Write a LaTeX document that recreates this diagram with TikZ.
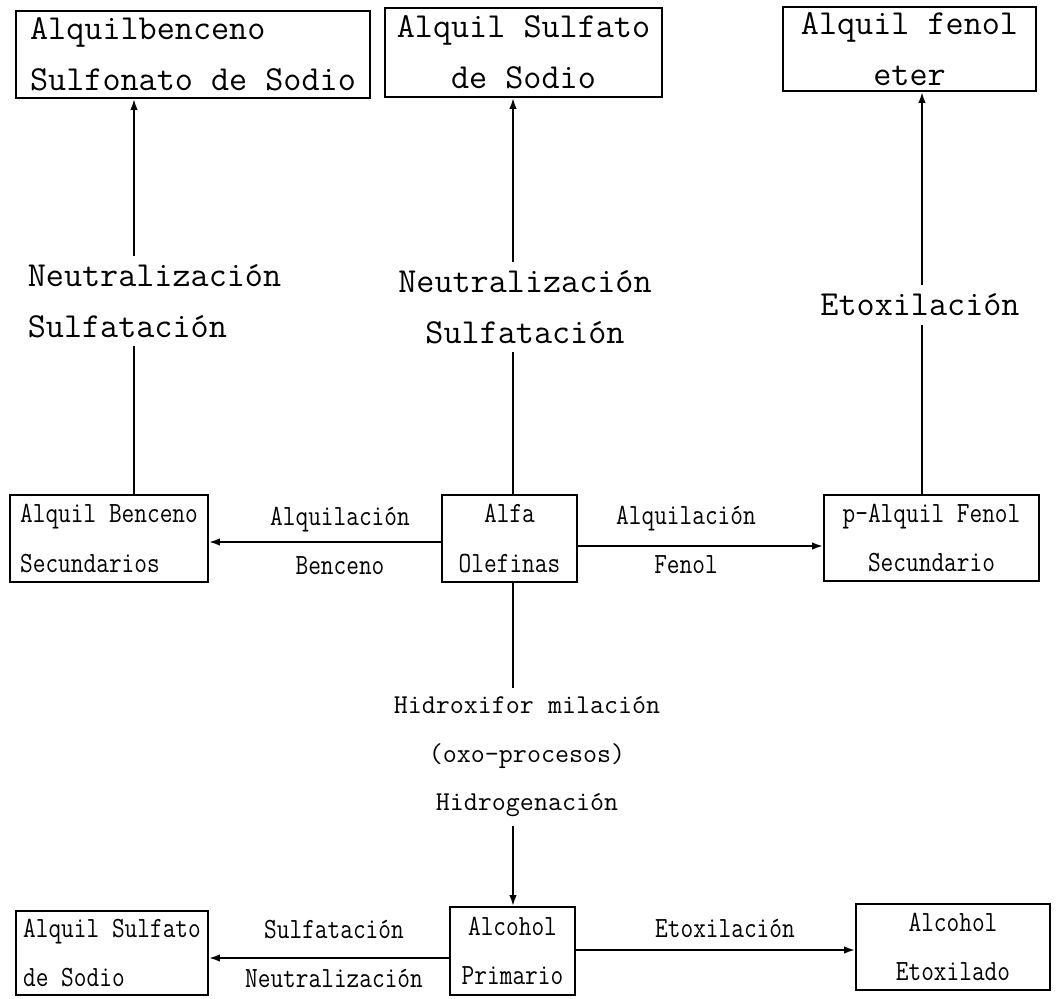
\documentclass[tikz,border=0pt]{standalone}
\usepackage{fontspec}
\usepackage{tikz}
\usetikzlibrary{arrows.meta}
\usetikzlibrary{positioning}

\newcommand{\cnd}[1]{\scalebox{0.84}[1]{#1}}

\begin{document}
\begin{tikzpicture}[x=0.02cm, y=-0.02cm,
    >={Latex[length=2.2mm,width=1.5mm]},
    box/.style={draw, line width=1.1pt, inner sep=0pt, align=center},
    bigtxt/.style={font=\fontsize{20}{29}\selectfont\ttfamily},
    smalltxt/.style={font=\fontsize{16.7}{28}\selectfont\ttfamily},
    midtxt/.style={font=\fontsize{15.5}{27.6}\selectfont\ttfamily},
    lbl/.style={inner sep=0pt, outer sep=5pt, align=center},
    flow/.style={line width=1.1pt}
    ]
    \useasboundingbox (0,0) rectangle (1058,998);
    \coordinate (colA) at (134,0);
    \coordinate (colB) at (513,0);
    \coordinate (colC) at (922,0);
    \coordinate (rowL) at (0,542);
    \coordinate (rowR) at (0,546);
    \coordinate (rowSL) at (0,958);
    \coordinate (rowEt) at (0,950);

    % final products
    \node[box, bigtxt, align=left, minimum width=7.08cm, minimum height=1.74cm] (b1) at (193,54.5) {Alquilbenceno\\Sulfonato de Sodio};
    \node[box, bigtxt, minimum width=5.54cm, minimum height=1.78cm] (b2) at (523.5,52.5) {Alquil Sulfato\\de Sodio};
    \node[box, bigtxt, minimum width=5.06cm, minimum height=1.68cm] (b3) at (909.5,49) {Alquil fenol\\eter};

    \node[lbl, bigtxt, align=left] (lA) at (154.5,301) {Neutralización\\Sulfatación};
    \node[lbl, bigtxt] (lB) at (525,307) {Neutralización\\Sulfatación};
    \node[lbl, bigtxt] (lC) at (920,305) {Etoxilación};

    % intermediates
    \node[box, smalltxt, align=left, minimum width=3.96cm, minimum height=1.74cm] (m1) at (109,538.5) {\cnd{Alquil Benceno}\\\cnd{Secundarios}};
    \node[box, smalltxt, minimum width=2.70cm, minimum height=1.74cm] (m2) at (509.5,538.5) {\cnd{Alfa}\\\cnd{Olefinas}};
    \node[box, smalltxt, minimum width=4.30cm, minimum height=1.72cm] (m3) at (931.5,538) {\cnd{p-Alquil Fenol}\\\cnd{Secundario}};
    \node[lbl, smalltxt] (aL) at (340,541) {\cnd{Alquilación}\\\cnd{Benceno}};
    \node[lbl, smalltxt] (aR) at (686,540) {\cnd{Alquilación}\\\cnd{Fenol}};

    \node[lbl, midtxt] (hx) at (527,757) {Hidroxifor milación\\(oxo-procesos)\\Hidrogenación};

    % alcohol line
    \node[box, smalltxt, align=left, minimum width=3.84cm, minimum height=1.68cm] (d1) at (112,953) {\cnd{Alquil Sulfato}\\\cnd{de Sodio}};
    \node[box, smalltxt, minimum width=2.50cm, minimum height=1.76cm] (d2) at (512.5,951) {\cnd{Alcohol}\\\cnd{Primario}};
    \node[box, smalltxt, minimum width=3.88cm, minimum height=1.72cm] (d3) at (953,947) {\cnd{Alcohol}\\\cnd{Etoxilado}};
    \node[lbl, smalltxt] (sL) at (334,954) {\cnd{Sulfatación}\\\cnd{Neutralización}};
    \node[lbl, smalltxt] (eR) at (725,928) {\cnd{Etoxilación}};

    % upward lines through the labels
    \foreach \col/\lab/\src/\dst in {colA/lA/m1/b1, colB/lB/m2/b2, colC/lC/m3/b3} {
        \draw[flow] (\src.north -| \col) -- (\lab.south -| \col);
        \draw[flow, ->] (\lab.north -| \col) -- (\dst.south -| \col);
    }
    \draw[flow] (m2.south -| colB) -- (hx.north -| colB);
    \draw[flow, ->] (hx.south -| colB) -- (d2.north -| colB);

    \draw[flow, ->] (m2.west |- rowL) -- (m1.east |- rowL);
    \draw[flow, ->] (m2.east |- rowR) -- (m3.west |- rowR);
    \draw[flow, ->] (d2.west |- rowSL) -- (d1.east |- rowSL);
    \draw[flow, ->] (d2.east |- rowEt) -- (d3.west |- rowEt);
\end{tikzpicture}
\end{document}
